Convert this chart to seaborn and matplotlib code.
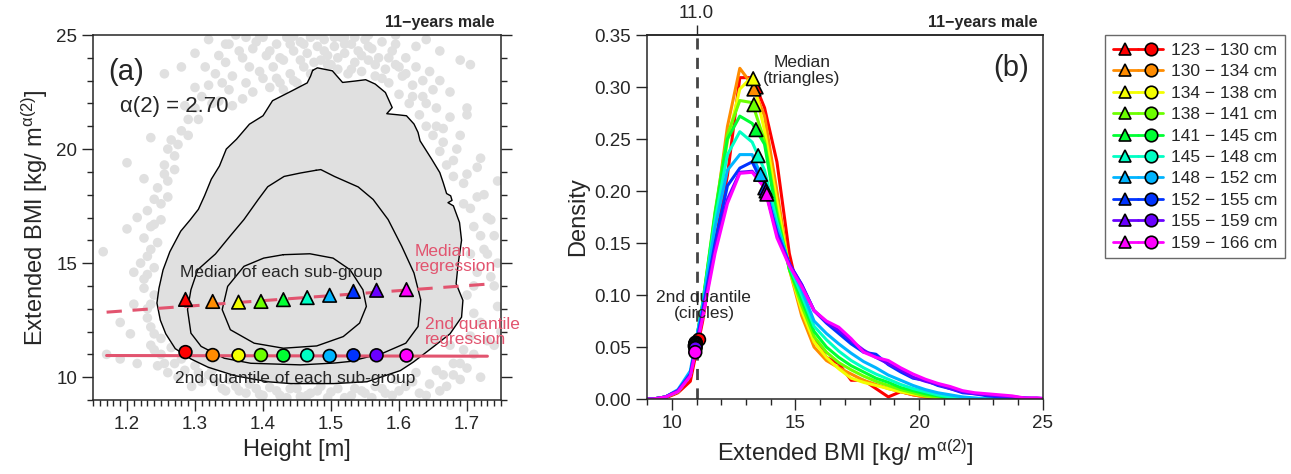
import numpy as np
import pandas as pd
import matplotlib
matplotlib.use("Agg")
import matplotlib.pyplot as plt
import seaborn as sns
from matplotlib.lines import Line2D
from matplotlib.legend_handler import HandlerTuple
from matplotlib.ticker import MultipleLocator, FormatStrFormatter

# ---- data ----
GROUPS = ["123 − 130 cm", "130 − 134 cm", "134 − 138 cm", "138 − 141 cm", "141 − 145 cm",
          "145 − 148 cm", "148 − 152 cm", "152 − 155 cm", "155 − 159 cm", "159 − 166 cm"]
COLORS = ["#ff0000", "#ff8c00", "#f4ff00", "#6cff00", "#00ff33",
          "#00ffc4", "#00b4ff", "#0033ff", "#6a00ff", "#ff00ff"]

# panel (a): sub-group heights [m], medians and 2nd quantiles of extended BMI
HEIGHT_MID = [1.286, 1.326, 1.364, 1.397, 1.430, 1.465, 1.498, 1.533, 1.567, 1.611]
MEDIAN_EBMI = [13.41, 13.32, 13.29, 13.32, 13.40, 13.49, 13.59, 13.76, 13.81, 13.84]
Q2_EBMI = [11.10, 10.97, 10.96, 10.97, 10.95, 10.96, 10.93, 10.96, 10.96, 10.95]

# regression lines (end points along height)
REG_X = [1.17, 1.73]
MEDIAN_REG_Y = [12.85, 14.08]
Q2_REG_Y = [10.95, 10.92]

# density contours of the height / BMI cloud
OUTER_X = [1.473, 1.480, 1.490, 1.502, 1.517, 1.535, 1.551, 1.565, 1.580, 1.590, 1.582, 1.599,
           1.611, 1.622, 1.628, 1.631, 1.648, 1.660, 1.665, 1.670, 1.676, 1.678, 1.672, 1.680,
           1.689, 1.692, 1.687, 1.684, 1.694, 1.692, 1.675, 1.650, 1.621, 1.602, 1.553, 1.504,
           1.441, 1.407, 1.358, 1.319, 1.294, 1.271, 1.257, 1.249, 1.244, 1.247, 1.253, 1.263,
           1.279, 1.293, 1.305, 1.314, 1.324, 1.336, 1.346, 1.361, 1.380, 1.400, 1.414, 1.443,
           1.465, 1.470]
OUTER_Y = [23.45, 23.56, 23.50, 23.43, 22.92, 22.98, 23.04, 22.85, 22.48, 21.82, 21.55, 21.50,
           21.46, 21.10, 20.73, 20.36, 19.56, 18.97, 18.53, 18.05, 17.95, 17.75, 17.65, 17.51,
           16.78, 16.00, 14.97, 14.10, 13.37, 12.63, 11.90, 11.32, 10.66, 10.29, 9.80, 9.72,
           9.72, 9.80, 10.07, 10.44, 10.80, 11.25, 11.90, 12.50, 13.25, 13.90, 14.70, 15.50,
           16.40, 16.90, 17.36, 17.95, 18.68, 19.26, 20.00, 20.43, 21.09, 21.46, 22.12, 22.56,
           22.90, 23.20]
MIDDLE_X = [1.478, 1.455, 1.431, 1.407, 1.393, 1.372, 1.352, 1.330, 1.304, 1.294, 1.289, 1.294,
            1.309, 1.343, 1.382, 1.455, 1.505, 1.528, 1.576, 1.610, 1.628, 1.632, 1.622, 1.604,
            1.584, 1.562, 1.540, 1.505, 1.485]
MIDDLE_Y = [19.07, 18.95, 18.80, 18.35, 17.79, 16.91, 16.20, 15.40, 14.71, 13.83, 12.96, 11.93,
            11.35, 10.83, 10.61, 10.54, 10.62, 10.69, 11.05, 11.49, 12.22, 13.39, 14.57, 15.74,
            16.91, 17.79, 18.34, 18.80, 19.10]
INNER_X = [1.430, 1.469, 1.503, 1.528, 1.547, 1.552, 1.542, 1.518, 1.479, 1.430, 1.387, 1.352,
           1.340, 1.348, 1.372, 1.401]
INNER_Y = [15.37, 15.41, 15.22, 14.71, 13.83, 13.10, 12.37, 11.78, 11.37, 11.27, 11.49, 12.08,
           12.96, 13.98, 14.86, 15.22]

# individual children outside the outer contour
CLOUD_X = [1.365, 1.380, 1.390, 1.400, 1.405, 1.410, 1.415, 1.420, 1.425, 1.430, 1.435, 1.440,
           1.445, 1.450, 1.455, 1.460, 1.465, 1.470, 1.475, 1.480, 1.485, 1.490, 1.495, 1.500,
           1.505, 1.510, 1.515, 1.520, 1.525, 1.530, 1.535, 1.540, 1.545, 1.550, 1.555, 1.560,
           1.565, 1.570, 1.575, 1.580, 1.585, 1.590, 1.595, 1.600, 1.605, 1.610, 1.615, 1.620,
           1.625, 1.630, 1.635, 1.640, 1.645, 1.650, 1.655, 1.660, 1.665, 1.670, 1.675, 1.680,
           1.685, 1.690, 1.695, 1.700, 1.705, 1.710, 1.715, 1.720, 1.725, 1.730, 1.735, 1.740,
           1.745, 1.720, 1.730, 1.710, 1.700, 1.720, 1.690, 1.680, 1.675, 1.665, 1.660, 1.645,
           1.630, 1.620, 1.600, 1.590, 1.575, 1.560, 1.545, 1.530, 1.510, 1.495, 1.480, 1.465,
           1.450, 1.435, 1.420, 1.400, 1.390, 1.375, 1.360, 1.345, 1.330, 1.320, 1.305, 1.295,
           1.285, 1.270, 1.260, 1.250, 1.245, 1.235, 1.240, 1.230, 1.235, 1.225, 1.230, 1.220,
           1.235, 1.225, 1.240, 1.230, 1.250, 1.245, 1.260, 1.255, 1.270, 1.265, 1.280, 1.290,
           1.300, 1.310, 1.320, 1.330, 1.335, 1.345, 1.350, 1.355, 1.370, 1.385, 1.165, 1.170,
           1.190, 1.210, 1.205, 1.215, 1.225, 1.235, 1.255, 1.280, 1.300, 1.320, 1.745, 1.750,
           1.700, 1.710, 1.660, 1.640, 1.595, 1.555, 1.520, 1.470, 1.445, 1.395, 1.375, 1.350,
           1.345, 1.355, 1.360, 1.370, 1.375, 1.385, 1.395, 1.400, 1.410, 1.420, 1.425, 1.430,
           1.440, 1.445, 1.455, 1.460, 1.470, 1.480, 1.490, 1.495, 1.505, 1.510, 1.520, 1.530,
           1.535, 1.545, 1.555, 1.565, 1.575, 1.585, 1.595, 1.600, 1.610, 1.620, 1.625, 1.635,
           1.640, 1.650, 1.655, 1.660, 1.665, 1.675, 1.680, 1.690, 1.695, 1.700, 1.705, 1.715,
           1.720, 1.725, 1.730, 1.735, 1.740, 1.705, 1.715, 1.700, 1.710, 1.705, 1.695, 1.690,
           1.680, 1.670, 1.655, 1.640, 1.625, 1.610, 1.595, 1.580, 1.565, 1.550, 1.535, 1.520,
           1.500, 1.485, 1.470, 1.455, 1.440, 1.425, 1.410, 1.395, 1.380, 1.365, 1.350, 1.340,
           1.325, 1.310, 1.300, 1.280, 1.275, 1.265, 1.255, 1.250, 1.240, 1.235, 1.230, 1.240,
           1.225, 1.240, 1.230, 1.245, 1.235, 1.250, 1.240, 1.260, 1.255, 1.270, 1.260, 1.275,
           1.285, 1.290, 1.300, 1.305, 1.315, 1.325, 1.335, 1.340, 1.210, 1.200, 1.215, 1.190,
           1.200, 1.745, 1.740]
CLOUD_Y = [24.3, 23.6, 24.7, 23.1, 24.1, 22.7, 23.6, 24.6, 22.9, 23.9, 24.9, 23.3,
           24.3, 22.9, 24.7, 23.6, 24.2, 24.9, 23.8, 24.5, 23.9, 24.8, 24.1, 23.7,
           24.5, 23.5, 24.9, 24.2, 23.3, 24.6, 23.8, 24.3, 23.4, 24.8, 23.9, 24.4,
           23.2, 24.0, 24.7, 23.5, 22.9, 24.3, 23.7, 22.4, 23.2, 24.0, 22.0, 22.8,
           23.6, 21.5, 22.3, 21.0, 23.4, 20.6, 21.8, 19.9, 20.9, 19.3, 22.5, 18.8,
           20.0, 23.9, 17.6, 18.9, 23.7, 16.6, 17.9, 19.6, 15.6, 17.0, 14.4, 16.2,
           13.1, 12.4, 11.6, 11.0, 10.4, 10.0, 9.9, 10.6, 11.4, 10.1, 9.4, 9.7,
           9.3, 9.8, 9.4, 9.2, 9.5, 9.1, 9.4, 9.2, 9.5, 9.1, 9.4, 9.2,
           9.5, 9.1, 9.4, 9.2, 9.5, 9.3, 9.6, 9.4, 9.8, 10.1, 10.2, 9.6,
           10.3, 10.6, 10.2, 11.0, 10.5, 11.4, 11.9, 12.6, 13.2, 13.9, 14.5, 15.0,
           15.6, 16.1, 16.7, 17.3, 17.6, 18.3, 18.6, 19.3, 19.7, 20.4, 20.8, 21.3,
           21.8, 22.3, 22.8, 23.3, 22.1, 23.8, 22.6, 21.9, 22.2, 22.5, 15.5, 11.0,
           12.4, 14.6, 11.9, 17.0, 18.7, 20.5, 23.3, 23.6, 24.2, 24.8, 15.0, 12.0,
           21.5, 14.0, 24.3, 24.8, 25.0, 25.0, 24.9, 25.0, 24.95, 25.0, 24.9, 24.6,
           24.6, 23.2, 25.0, 24.0, 22.9, 24.4, 23.4, 24.9, 24.3, 23.1, 24.0, 22.6,
           24.6, 23.0, 23.9, 24.6, 23.3, 25.0, 24.3, 23.7, 24.9, 24.0, 24.6, 23.5,
           24.9, 24.1, 24.5, 23.7, 23.1, 24.0, 24.6, 23.6, 23.3, 22.3, 24.5, 23.0,
           22.0, 22.6, 21.0, 23.0, 20.3, 21.4, 19.5, 20.6, 18.5, 21.8, 17.4, 19.2,
           16.2, 18.0, 15.4, 16.9, 14.0, 15.4, 14.6, 13.6, 12.8, 11.8, 11.2, 10.6,
           10.1, 9.6, 10.3, 9.2, 10.2, 9.6, 9.9, 9.3, 9.6, 9.3, 9.5, 9.1,
           9.35, 9.6, 9.3, 9.15, 9.5, 9.2, 9.55, 9.25, 9.7, 9.4, 9.9, 9.5,
           10.3, 9.8, 10.5, 10.8, 10.0, 11.3, 10.6, 11.7, 11.2, 12.2, 13.0, 13.6,
           14.3, 14.8, 15.3, 15.9, 16.6, 16.9, 17.8, 17.9, 18.9, 19.1, 20.0, 20.2,
           21.9, 20.6, 22.7, 21.3, 23.6, 22.0, 24.1, 22.9, 13.2, 16.5, 10.6, 10.8,
           19.4, 18.6, 11.4]

# panel (b): density of extended BMI per sub-group
BMI_GRID = [8.75, 9.25, 9.75, 10.25, 10.75, 11.25, 11.75, 12.25, 12.75, 13.25, 13.75, 14.25,
            14.75, 15.25, 15.75, 16.25, 16.75, 17.25, 17.75, 18.25, 18.75, 19.25, 19.75, 20.25,
            20.75, 21.25, 21.75, 22.25, 22.75, 23.25, 23.75, 24.25, 24.75, 25.25]
DENS_123_130 = [0, 0, 0.001, 0.006, 0.017, 0.075, 0.150, 0.215, 0.309, 0.309, 0.280, 0.228,
                0.140, 0.088, 0.058, 0.040, 0.034, 0.018, 0.018, 0.010, 0.002, 0.007, 0.004, 0.002,
                0, 0, 0, 0, 0, 0, 0, 0, 0, 0]
DENS_130_134 = [0, 0, 0.002, 0.007, 0.023, 0.090, 0.175, 0.262, 0.318, 0.302, 0.272, 0.200,
                0.125, 0.080, 0.050, 0.037, 0.030, 0.024, 0.018, 0.014, 0.010, 0.007, 0.004, 0.002,
                0.001, 0, 0, 0, 0, 0, 0, 0, 0, 0]
DENS_134_138 = [0, 0, 0.002, 0.007, 0.023, 0.090, 0.172, 0.248, 0.298, 0.310, 0.258, 0.190,
                0.125, 0.085, 0.055, 0.040, 0.029, 0.020, 0.016, 0.013, 0.010, 0.007, 0.005, 0.003,
                0.001, 0, 0, 0, 0, 0, 0, 0, 0, 0]
DENS_138_141 = [0, 0, 0.002, 0.007, 0.023, 0.092, 0.180, 0.254, 0.287, 0.285, 0.248, 0.180,
                0.125, 0.090, 0.060, 0.045, 0.035, 0.028, 0.022, 0.017, 0.013, 0.009, 0.006, 0.003,
                0.002, 0.001, 0, 0, 0, 0, 0, 0, 0, 0]
DENS_141_145 = [0, 0, 0.002, 0.007, 0.023, 0.092, 0.178, 0.250, 0.272, 0.265, 0.245, 0.175,
                0.125, 0.095, 0.065, 0.050, 0.040, 0.032, 0.026, 0.020, 0.016, 0.011, 0.008, 0.005,
                0.003, 0.001, 0, 0, 0, 0, 0, 0, 0, 0]
DENS_145_148 = [0, 0, 0.002, 0.008, 0.024, 0.090, 0.172, 0.235, 0.257, 0.247, 0.220, 0.170,
                0.128, 0.100, 0.070, 0.057, 0.046, 0.037, 0.030, 0.024, 0.019, 0.014, 0.010, 0.007,
                0.004, 0.002, 0.001, 0, 0, 0, 0, 0, 0, 0]
DENS_148_152 = [0, 0, 0.002, 0.009, 0.027, 0.090, 0.165, 0.220, 0.235, 0.235, 0.207, 0.165,
                0.130, 0.105, 0.075, 0.063, 0.053, 0.044, 0.036, 0.030, 0.023, 0.018, 0.013, 0.009,
                0.006, 0.004, 0.002, 0.001, 0, 0, 0, 0, 0, 0]
DENS_152_155 = [0, 0, 0.002, 0.008, 0.024, 0.085, 0.150, 0.205, 0.222, 0.228, 0.203, 0.160,
                0.130, 0.110, 0.085, 0.073, 0.063, 0.053, 0.045, 0.043, 0.033, 0.026, 0.020, 0.018,
                0.013, 0.010, 0.006, 0.005, 0.003, 0.002, 0.002, 0.001, 0, 0]
DENS_155_159 = [0, 0, 0.002, 0.008, 0.023, 0.082, 0.145, 0.192, 0.218, 0.219, 0.205, 0.158,
                0.130, 0.110, 0.085, 0.074, 0.066, 0.056, 0.047, 0.040, 0.034, 0.028, 0.021, 0.017,
                0.014, 0.010, 0.007, 0.005, 0.004, 0.003, 0.002, 0.001, 0.001, 0]
DENS_159_166 = [0, 0, 0.002, 0.007, 0.022, 0.078, 0.140, 0.188, 0.217, 0.218, 0.203, 0.155,
                0.128, 0.108, 0.085, 0.075, 0.069, 0.058, 0.045, 0.040, 0.037, 0.030, 0.024, 0.019,
                0.015, 0.012, 0.008, 0.006, 0.005, 0.004, 0.003, 0.001, 0.001, 0]
DENSITIES = [DENS_123_130, DENS_130_134, DENS_134_138, DENS_138_141, DENS_141_145,
             DENS_145_148, DENS_148_152, DENS_152_155, DENS_155_159, DENS_159_166]

MEDIAN_DENS = [0.300, 0.298, 0.308, 0.283, 0.259, 0.234, 0.216, 0.203, 0.200, 0.197]
Q2_DENS = [0.057, 0.054, 0.054, 0.053, 0.053, 0.052, 0.051, 0.050, 0.049, 0.045]
CUTOFF = 11.0
ALPHA_TEXT = "α(2) = 2.70"

PINK = "#e2546f"
CLOUD = "#e0e0e0"

sns.set_style("ticks")
plt.rcParams["font.family"] = ["Liberation Sans", "DejaVu Sans"]
plt.rcParams["mathtext.fontset"] = "custom"
plt.rcParams["mathtext.rm"] = "Liberation Sans"
plt.rcParams["mathtext.it"] = "Liberation Sans:italic"
plt.rcParams["axes.linewidth"] = 1.1

fig = plt.figure(figsize=(12.91, 4.74), dpi=100)
ax1 = fig.add_axes([93 / 1291, 74 / 474, 408 / 1291, 365 / 474])
ax2 = fig.add_axes([647 / 1291, 75 / 474, 396 / 1291, 364 / 474])

bmi_label = r"Extended BMI [kg/ m$^{\mathrm{α(2)}}$]"

# ---------------- panel (a) ----------------
sns.scatterplot(x=CLOUD_X, y=CLOUD_Y, color=CLOUD, s=48, edgecolor="none", ax=ax1, zorder=1)
ax1.fill(OUTER_X, OUTER_Y, color=CLOUD, lw=0, zorder=1.5)
for cx, cy in [(OUTER_X, OUTER_Y), (MIDDLE_X, MIDDLE_Y), (INNER_X, INNER_Y)]:
    ax1.plot(cx + cx[:1], cy + cy[:1], color="black", lw=1.0, zorder=2)

ax1.plot(REG_X, MEDIAN_REG_Y, color=PINK, lw=2.2, ls=(0, (5, 3.5)), zorder=3)
ax1.plot(REG_X, Q2_REG_Y, color=PINK, lw=2.2, zorder=3)

df_a = pd.DataFrame({"height": HEIGHT_MID, "median": MEDIAN_EBMI, "q2": Q2_EBMI, "group": GROUPS})
sns.scatterplot(data=df_a, x="height", y="median", hue="group", palette=COLORS, marker="^",
                s=95, edgecolor="black", linewidth=1.2, legend=False, ax=ax1, zorder=4)
sns.scatterplot(data=df_a, x="height", y="q2", hue="group", palette=COLORS, marker="o",
                s=85, edgecolor="black", linewidth=1.2, legend=False, ax=ax1, zorder=4)

ax1.set_xlim(1.15, 1.75)
ax1.set_ylim(9, 25)
ax1.xaxis.set_major_locator(MultipleLocator(0.1))
ax1.xaxis.set_minor_locator(MultipleLocator(0.01))
ax1.yaxis.set_major_locator(MultipleLocator(5))
ax1.yaxis.set_minor_locator(MultipleLocator(1))
ax1.xaxis.set_major_formatter(FormatStrFormatter("%.1f"))
ax1.tick_params(axis="both", which="both", direction="out", labelsize=13.5, width=1.0)
ax1.tick_params(axis="y", which="both", right=True)
ax1.tick_params(which="major", length=8)
ax1.tick_params(which="minor", length=4)
ax1.set_xlabel("Height [m]", fontsize=17)
ax1.set_ylabel(bmi_label, fontsize=17)

ax1.text(1.172, 23.4, "(a)", fontsize=21, va="center", ha="left")
ax1.text(1.19, 21.85, ALPHA_TEXT, fontsize=16, va="center", ha="left")
ax1.text(1.4264, 14.61, "Median of each sub-group", fontsize=12.5, ha="center", va="center", zorder=5)
ax1.text(1.448, 9.93, "2nd quantile of each sub-group", fontsize=12.5, ha="center", va="center", zorder=5)
ax1.text(1.6236, 15.16, "Median\nregression", color=PINK, fontsize=12.5, ha="left", va="center",
         linespacing=1.0, clip_on=False, zorder=5)
ax1.text(1.638, 12.0, "2nd quantile\nregression", color=PINK, fontsize=12.5, ha="left", va="center",
         linespacing=1.0, clip_on=False, zorder=5)
ax1.text(0.985, 1.015, "11−years male", transform=ax1.transAxes, fontsize=11.5,
         fontweight="bold", ha="right", va="bottom")

# ---------------- panel (b) ----------------
rows = []
for grp, dens in zip(GROUPS, DENSITIES):
    for b, d in zip(BMI_GRID, dens):
        rows.append({"group": grp, "bmi": b, "density": d})
df_b = pd.DataFrame(rows)

ax2.axvline(CUTOFF, color="#444444", lw=2.0, ls=(0, (4, 3)), zorder=1)
sns.lineplot(data=df_b, x="bmi", y="density", hue="group", hue_order=GROUPS, palette=COLORS,
             estimator=None, lw=2.2, legend=False, ax=ax2, zorder=2)

df_m = pd.DataFrame({"median": MEDIAN_EBMI, "mdens": MEDIAN_DENS,
                     "q2": Q2_EBMI, "qdens": Q2_DENS, "group": GROUPS})
sns.scatterplot(data=df_m, x="q2", y="qdens", hue="group", palette=COLORS, marker="o",
                s=85, edgecolor="black", linewidth=1.2, legend=False, ax=ax2, zorder=4)
sns.scatterplot(data=df_m, x="median", y="mdens", hue="group", palette=COLORS, marker="^",
                s=95, edgecolor="black", linewidth=1.2, legend=False, ax=ax2, zorder=4)

ax2.set_xlim(9, 25)
ax2.set_ylim(0, 0.35)
ax2.xaxis.set_major_locator(MultipleLocator(5))
ax2.xaxis.set_minor_locator(MultipleLocator(1))
ax2.yaxis.set_major_locator(MultipleLocator(0.05))
ax2.yaxis.set_major_formatter(FormatStrFormatter("%.2f"))
ax2.tick_params(axis="both", which="both", direction="out", labelsize=13.5, width=1.0)
ax2.tick_params(which="major", length=8)
ax2.tick_params(which="minor", length=4)
ax2.set_xlabel(bmi_label, fontsize=17)
ax2.set_ylabel("Density", fontsize=17)

top = ax2.secondary_xaxis("top")
top.set_xticks([CUTOFF])
top.set_xticklabels([f"{CUTOFF:.1f}"])
top.tick_params(direction="out", length=7, width=1.0, labelsize=13.5, pad=2)

ax2.text(15.25, 0.316, "Median\n(triangles)", fontsize=12.5, ha="center", va="center", linespacing=1.05)
ax2.text(11.3, 0.09, "2nd quantile\n(circles)", fontsize=12.5, ha="center", va="center",
         linespacing=1.05, zorder=5)
ax2.text(23.7, 0.318, "(b)", fontsize=21, ha="center", va="center")
ax2.text(0.985, 1.015, "11−years male", transform=ax2.transAxes, fontsize=11.5,
         fontweight="bold", ha="right", va="bottom")

# legend: line with a triangle and a circle for every sub-group
handles = []
for c in COLORS:
    tri = Line2D([], [], color=c, lw=2, marker="^", ms=9, mfc=c, mec="black", mew=1.2)
    cir = Line2D([], [], color=c, lw=2, marker="o", ms=9, mfc=c, mec="black", mew=1.2)
    handles.append((tri, cir))
leg = fig.legend(handles, GROUPS, loc="upper left", bbox_to_anchor=(1105 / 1291, 1 - 35 / 474),
                 handler_map={tuple: HandlerTuple(ndivide=None, pad=0)}, fontsize=12.5,
                 frameon=True, fancybox=False, edgecolor="#444444", handlelength=2.9,
                 handletextpad=0.45, labelspacing=0.36, borderpad=0.45, borderaxespad=0)
leg.get_frame().set_linewidth(1.0)

fig.savefig("out.png", dpi=100)
